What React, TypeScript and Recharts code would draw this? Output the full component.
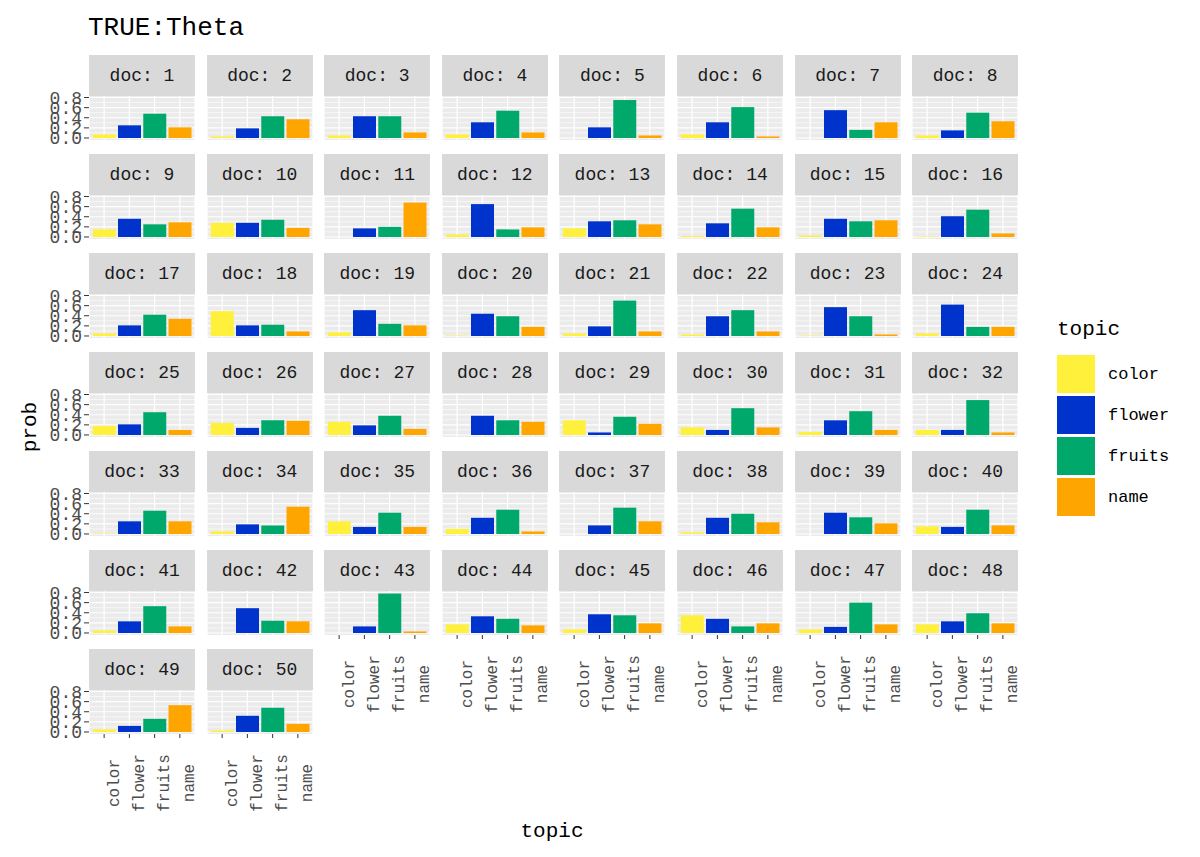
import { BarChart, Bar, Cell, XAxis, YAxis, CartesianGrid } from "recharts";

const topics = ["color", "flower", "fruits", "name"];
const topicColors = ["#FFF03B", "#0033CC", "#00A86B", "#FFA500"];

// prob of each topic for doc 1..50
const color = [
  0.07, 0.03, 0.05, 0.07, 0.0, 0.07, 0.0, 0.05, 0.15, 0.28,
  0.0, 0.05, 0.17, 0.02, 0.03, 0.01, 0.05, 0.49, 0.07, 0.01,
  0.05, 0.03, 0.01, 0.05, 0.18, 0.24, 0.26, 0.0, 0.29, 0.15,
  0.06, 0.1, 0.01, 0.05, 0.25, 0.1, 0.0, 0.03, 0.0, 0.15,
  0.05, 0.0, 0.0, 0.17, 0.07, 0.35, 0.07, 0.17, 0.05, 0.03,
];
const flower = [
  0.25, 0.19, 0.43, 0.31, 0.21, 0.31, 0.55, 0.15, 0.36, 0.28,
  0.17, 0.65, 0.31, 0.27, 0.36, 0.41, 0.21, 0.21, 0.51, 0.44,
  0.19, 0.39, 0.57, 0.62, 0.21, 0.14, 0.19, 0.38, 0.05, 0.1,
  0.29, 0.1, 0.25, 0.19, 0.14, 0.32, 0.17, 0.32, 0.42, 0.14,
  0.23, 0.49, 0.13, 0.33, 0.37, 0.28, 0.12, 0.23, 0.12, 0.32,
];
const fruits = [
  0.48, 0.43, 0.43, 0.54, 0.75, 0.61, 0.16, 0.5, 0.25, 0.34,
  0.2, 0.15, 0.33, 0.56, 0.31, 0.54, 0.42, 0.22, 0.24, 0.39,
  0.7, 0.51, 0.39, 0.18, 0.45, 0.29, 0.38, 0.29, 0.36, 0.53,
  0.47, 0.69, 0.46, 0.17, 0.42, 0.48, 0.52, 0.4, 0.33, 0.48,
  0.53, 0.24, 0.78, 0.28, 0.35, 0.13, 0.6, 0.39, 0.26, 0.48,
];
const name = [
  0.21, 0.37, 0.11, 0.11, 0.05, 0.03, 0.31, 0.33, 0.29, 0.18,
  0.68, 0.19, 0.25, 0.19, 0.33, 0.07, 0.34, 0.09, 0.21, 0.18,
  0.09, 0.09, 0.03, 0.18, 0.1, 0.28, 0.12, 0.26, 0.22, 0.15,
  0.1, 0.05, 0.25, 0.54, 0.14, 0.05, 0.25, 0.23, 0.21, 0.17,
  0.13, 0.23, 0.03, 0.15, 0.19, 0.19, 0.17, 0.19, 0.53, 0.16,
];
const series = [color, flower, fruits, name];

const yTicks = [0, 0.2, 0.4, 0.6, 0.8];
const yMinor = [0.1, 0.3, 0.5, 0.7];

const FONT = '"Liberation Mono", "DejaVu Sans Mono", monospace';
const NDOC = 50;
const NCOL = 8;
const PANEL_W = 106;
const PLOT_H = 44;
const STRIP_H = 41;
const COL_X0 = 89;
const COL_STEP = 117.6;
const ROW_Y0 = 55;
const ROW_STEP = 99;
const Y_AXIS_W = 60;
const X_AXIS_H = 100;

function XTick(props: any) {
  const { x, y, payload } = props;
  return (
    <text
      transform={`translate(${x + 4},${y + 43}) rotate(-90)`}
      textAnchor="middle"
      dominantBaseline="hanging"
      fill="#4D4D4D"
      fontSize={16}
      fontFamily={FONT}
    >
      {payload.value}
    </text>
  );
}

function Panel({ i }: { i: number }) {
  const r = Math.floor(i / NCOL);
  const c = i % NCOL;
  const first = c === 0;
  const bottom = i + NCOL >= NDOC;
  const left = COL_X0 + c * COL_STEP;
  const stripTop = ROW_Y0 + r * ROW_STEP;
  const plotTop = stripTop + STRIP_H;
  const data = topics.map((t, k) => ({ topic: t, prob: series[k][i] }));
  const w = PANEL_W + (first ? Y_AXIS_W : 0);
  const h = PLOT_H + (bottom ? X_AXIS_H : 0);

  return (
    <>
      <div
        style={{
          position: "absolute",
          left,
          top: stripTop,
          width: PANEL_W,
          height: STRIP_H,
          background: "#D9D9D9",
          color: "#1A1A1A",
          fontSize: 18,
          fontFamily: FONT,
          display: "flex",
          alignItems: "center",
          justifyContent: "center",
        }}
      >
        doc: {i + 1}
      </div>
      <div style={{ position: "absolute", left: left - (first ? Y_AXIS_W : 0), top: plotTop }}>
        <BarChart
          width={w}
          height={h}
          data={data}
          margin={{ top: 0, right: 0, bottom: 0, left: 0 }}
          barCategoryGap="5%"
        >
          <CartesianGrid
            fill="#EBEBEB"
            stroke="#FFFFFF"
            strokeWidth={0.6}
            vertical={false}
            horizontalValues={yMinor}
          />
          <CartesianGrid stroke="#FFFFFF" strokeWidth={1.2} horizontalValues={yTicks} />
          <XAxis
            dataKey="topic"
            type="category"
            hide={!bottom}
            height={X_AXIS_H}
            axisLine={false}
            tickLine={{ stroke: "#333333" }}
            tickSize={4}
            tick={XTick}
            interval={0}
            padding={{ left: 2.5, right: 2.5 }}
          />
          <YAxis
            type="number"
            domain={[-0.04, 0.83]}
            allowDataOverflow
            ticks={yTicks}
            hide={!first}
            width={Y_AXIS_W}
            axisLine={false}
            tickLine={{ stroke: "#333333" }}
            tickSize={5}
            tickMargin={2}
            interval={0}
            tickFormatter={(v: number) => v.toFixed(1)}
            tick={{ fontSize: 18, fill: "#4D4D4D", fontFamily: FONT }}
          />
          <Bar dataKey="prob" isAnimationActive={false}>
            {data.map((d, k) => (
              <Cell key={d.topic} fill={topicColors[k]} />
            ))}
          </Bar>
        </BarChart>
      </div>
    </>
  );
}

export default function App() {
  return (
    <div
      style={{
        position: "absolute",
        left: 0,
        top: 0,
        width: 1200,
        height: 857,
        background: "#FFFFFF",
        fontFamily: FONT,
      }}
    >
      <style>{`.recharts-surface { overflow: visible; } .recharts-wrapper { overflow: visible; }`}</style>
      <div style={{ position: "absolute", left: 88, top: 13, fontSize: 26, color: "#000" }}>
        TRUE:Theta
      </div>
      {Array.from({ length: NDOC }, (_, i) => (
        <Panel key={i} i={i} />
      ))}
      <div
        style={{
          position: "absolute",
          left: 30,
          top: 427,
          fontSize: 21,
          color: "#000",
          transform: "translate(-50%, -50%) rotate(-90deg)",
        }}
      >
        prob
      </div>
      <div
        style={{
          position: "absolute",
          left: 552,
          top: 831,
          fontSize: 21,
          color: "#000",
          transform: "translate(-50%, -50%)",
        }}
      >
        topic
      </div>
      <div style={{ position: "absolute", left: 1057, top: 318, fontSize: 21, color: "#000" }}>
        topic
      </div>
      {topics.map((t, k) => (
        <div key={t}>
          <div
            style={{
              position: "absolute",
              left: 1057,
              top: 355 + k * 41,
              width: 38,
              height: 38,
              background: topicColors[k],
            }}
          />
          <div
            style={{
              position: "absolute",
              left: 1108,
              top: 355 + k * 41,
              height: 38,
              display: "flex",
              alignItems: "center",
              fontSize: 17,
              color: "#000",
            }}
          >
            {t}
          </div>
        </div>
      ))}
    </div>
  );
}
